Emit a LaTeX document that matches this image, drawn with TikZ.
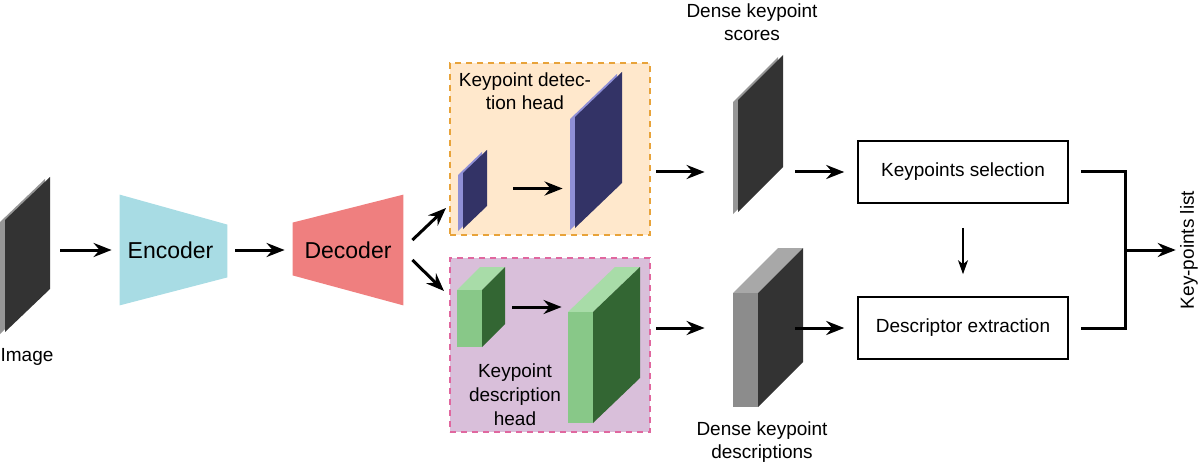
\documentclass[tikz,border=0pt]{standalone}
\usepackage{fontspec}
\setmainfont{Liberation Sans}
\usetikzlibrary{arrows.meta, positioning, fit, calc}

\definecolor{placa}{RGB}{51,51,51}
\definecolor{placaborda}{RGB}{150,150,150}
\definecolor{encoder}{RGB}{168,220,228}
\definecolor{decoder}{RGB}{239,127,127}
\definecolor{detfundo}{RGB}{255,232,204}
\definecolor{detborda}{RGB}{232,163,58}
\definecolor{descfundo}{RGB}{217,191,218}
\definecolor{descborda}{RGB}{224,103,159}
\definecolor{azul}{RGB}{51,51,102}
\definecolor{azulborda}{RGB}{143,143,214}
\definecolor{verdefrente}{RGB}{136,200,136}
\definecolor{verdetopo}{RGB}{168,220,168}
\definecolor{verdelado}{RGB}{51,102,51}
\definecolor{cinzafrente}{RGB}{140,140,140}
\definecolor{cinzatopo}{RGB}{168,168,168}

% placa fina: x esq., x dir., y topo esq., y topo dir., altura, face, borda
\newcommand{\placa}[7]{%
  \fill[#7] ({#1-5},{#3+2}) -- ({#2-5},{#4+2}) -- ({#2-5},{#4+#5+2}) -- ({#1-5},{#3+#5+2}) -- cycle;
  \fill[#6] (#1,#3) -- (#2,#4) -- (#2,{#4+#5}) -- (#1,{#3+#5}) -- cycle;}
% bloco 3D: x0, x1, y0, y1, dx, dy, frente, topo, lado
\newcommand{\cubo}[9]{%
  \fill[#8] (#1,#3) -- ({#1+#5},{#3-#6}) -- ({#2+#5},{#3-#6}) -- (#2,#3) -- cycle;
  \fill[#9] (#2,#3) -- ({#2+#5},{#3-#6}) -- ({#2+#5},{#4-#6}) -- (#2,#4) -- cycle;
  \fill[#7] (#1,#3) rectangle (#2,#4);}

\begin{document}
\begin{tikzpicture}[x=0.5pt, y=-0.5pt, font=\fontsize{9.5}{11.5}\selectfont,
    seta/.style={-{Stealth[length=9pt,width=7pt,inset=3pt]}, line width=1.5pt},
    setafina/.style={-{Stealth[length=7pt,width=5pt,inset=2pt]}, line width=0.9pt},
    caixa/.style={draw, line width=0.8pt, minimum width=105pt, minimum height=31pt, inner sep=0},
    cabeca/.style={dash pattern=on 3pt off 2.5pt, line width=1pt, minimum width=100pt, minimum height=86pt, inner sep=0},
    bloco/.style={inner sep=0, minimum width=55pt, minimum height=55pt},
    marca/.style={inner sep=0},
    grande/.style={font=\fontsize{11.5}{13}\selectfont}]

  \useasboundingbox (0,0) rectangle (1200,476);

  % imagem de entrada
  \placa{5}{50}{220}{177}{112}{placa}{placaborda}
  \node[fit={(0,175)(50,334)}, marca] (img) {};
  \node (imgrot) at (27,357) {Image};

  % encoder e decoder
  \node[bloco, minimum width=53.5pt] (enc) at (173.5,250) {};
  \fill[encoder] (enc.north west) -- ([yshift=-15pt]enc.north east)
    -- ([yshift=14pt]enc.south east) -- (enc.south west) -- cycle;
  \node[grande] (enctxt) at ([xshift=-1.5pt]enc.center) {Encoder};
  \node[bloco] (dec) at (348,250) {};
  \fill[decoder] ([yshift=-14pt]dec.north west) -- (dec.north east)
    -- (dec.south east) -- ([yshift=15pt]dec.south west) -- cycle;
  \node[grande] (dectxt) at (dec.center) {Decoder};

  \draw[seta] ([xshift=5pt]img.east |- enc.west) -- ([xshift=-4pt]enc.west);
  \draw[seta] ([xshift=4pt]enc.east) -- ([xshift=-4pt]dec.west);

  % cabeca de deteccao
  \node[cabeca, draw=detborda, fill=detfundo] (det) at (550,149) {};
  \node[align=center] (dettit) at (525,91) {Keypoint detec-\\tion head};
  \placa{463}{487}{173}{150}{56}{azul}{azulborda}
  \node[fit={(458,148)(487,229)}, marca] (pa) {};
  \placa{575}{622}{117}{72}{111}{azul}{azulborda}
  \node[fit={(570,70)(622,229)}, marca] (pb) {};
  \draw[seta] ([xshift=13pt]pa.east) -- ([xshift=-3.5pt]pb.west |- pa.east);

  % cabeca de descricao
  \node[cabeca, draw=descborda, fill=descfundo, minimum height=87pt] (desc) at (550,345) {};
  \cubo{457}{482}{290}{347}{23}{23}{verdefrente}{verdetopo}{verdelado}
  \node[fit={(457,267)(505,347)}, marca] (ca) {};
  \cubo{568}{593}{312}{423}{47}{45}{verdefrente}{verdetopo}{verdelado}
  \node[fit={(568,267)(640,423)}, marca] (cb) {};
  \draw[seta] ([xshift=3.5pt]ca.east) -- ([xshift=-3pt]cb.west |- ca.east);
  \node[align=center, font=\fontsize{9.5}{12}\selectfont] (desctit) at (515,395)
    {Keypoint\\description\\head};

  \draw[seta] ([xshift=4.5pt,yshift=5pt]dec.east) -- ([xshift=-1.5pt,yshift=14pt]det.south west);
  \draw[seta] ([xshift=4.5pt,yshift=-5pt]dec.east) -- ([xshift=-2.5pt,yshift=-17pt]desc.north west);

  % saidas densas
  \placa{738}{783}{100}{55}{112}{placa}{placaborda}
  \node[fit={(733,53)(783,212)}, marca] (scr) {};
  \node[align=center] (scrrot) at (752,22) {Dense keypoint\\scores};
  \cubo{733}{758}{293}{407}{45}{45}{cinzafrente}{cinzatopo}{placa}
  \node[fit={(733,248)(803,407)}, marca] (dsc) {};
  \node[align=center] (dscrot) at (762,442) {Dense keypoint\\descriptions};

  % pos-processamento
  \node[caixa] (sel) at (963,172) {Keypoints selection};
  \node[caixa] (ext) at (963,328) {Descriptor extraction};
  \node[rotate=90, inner sep=2pt] (lista) at (1189,250) {Key-points list};
  \coordinate (junta) at (1125,250);

  \draw[seta] ([xshift=2.5pt]det.east |- sel.west) -- ([xshift=-14pt]scr.west |- sel.west);
  \draw[seta] ([xshift=6pt]scr.east |- sel.west) -- ([xshift=-6.5pt]sel.west);
  \draw[seta] ([xshift=2.5pt]desc.east |- ext.west) -- ([xshift=-14pt]dsc.west |- ext.west);
  \draw[seta] ([xshift=-4pt]dsc.east |- ext.west) -- ([xshift=-6.5pt]ext.west);
  \draw[setafina] ([yshift=-12pt]sel.south) -- ([yshift=11pt]ext.north);
  \draw[line width=1.5pt] ([xshift=6pt]sel.east) -| (junta) |- ([xshift=6pt]ext.east);
  \draw[seta] (junta) -- (lista.north);
\end{tikzpicture}
\end{document}
